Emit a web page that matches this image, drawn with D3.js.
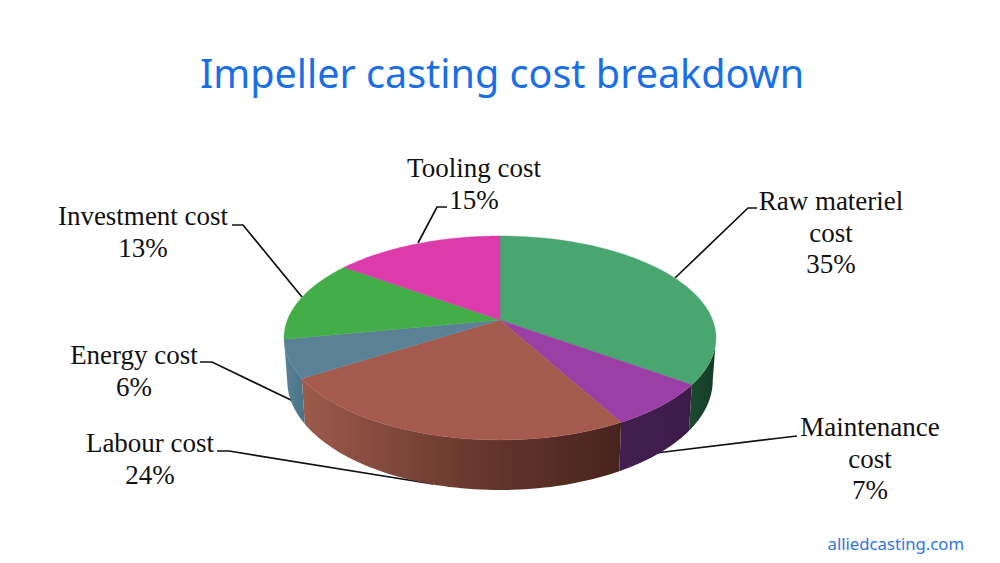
<!DOCTYPE html>
<html><head><meta charset="utf-8">
<script src="https://cdnjs.cloudflare.com/ajax/libs/d3/7.8.5/d3.min.js"></script>
<style>html,body{margin:0;background:#fff}svg{display:block}</style></head>
<body><svg id="c" width="1000" height="563"></svg>
<script>
const categories = ["Raw materiel cost","Maintenance cost","Labour cost","Energy cost","Investment cost","Tooling cost"];
const values = [35,7,24,6,13,15];
const topColors = ["#49a66f","#9a3fa6","#a45a4c","#5b8197","#43ae47","#dc3bab"];
const wallColors = [["#1a4a2e","#133b26"],["#421f50","#3c1b49"],["#9c5b4b","#6b3a2f","#47231d"],["#5b8197","#4a7688"],["#43ae47","#43ae47"],["#dc3bab","#dc3bab"]];
const labelLines = [["Raw materiel","cost","35%"],["Maintenance","cost","7%"],["Labour cost","24%"],["Energy cost","6%"],["Investment cost","13%"],["Tooling cost","15%"]];
const labelAnchors = [[831,210],[870,436],[150,452],[134,364],[143,225],[474,177]];
const leaders = [
 [[757,208],[748,208],[675,278]],
 [[797,436],[780,438],[656,453]],
 [[217,451],[229,451],[433,484]],
 [[200,362],[212,362],[293,401]],
 [[232,225],[243,225],[302,297]],
 [[447,207],[437,207],[418,243]]];

const svg = d3.select("#c");
const cx=500, cy=320, R=212.6, k=98.8, a=0.176, depth=41.3, shrink=0.015;
function project(theta, d=0){
  const u=Math.sin(theta), v=-Math.cos(theta), s=1/(1-a*v);
  return [cx+R*u*s*(1-shrink*d), cy+k*v*s+d*depth*s];
}
const arcs = d3.pie().sort(null)(values);
const line = d3.line();
const defs = svg.append("defs");
const visStart=Math.PI-Math.acos(a), visEnd=Math.PI+Math.acos(a);
function samples(s,e){ return d3.range(0,61).map(i=>s+(e-s)*i/60); }

// leaders drawn first, so the pie covers their ends
svg.append("g").selectAll("path").data(leaders).join("path")
  .attr("d",d=>line(d)).attr("fill","none").attr("stroke","#111").attr("stroke-width",1.7);
// side walls: only the part of the rim that faces the viewer
arcs.forEach((p,i)=>{
  const s=Math.max(p.startAngle,visStart), e=Math.min(p.endAngle,visEnd);
  if(e<=s) return;
  const th=samples(s,e);
  const top=th.map(t=>project(t,0)), bot=th.map(t=>project(t,1)).reverse();
  const xs=top.map(q=>q[0]);
  const g=defs.append("linearGradient").attr("id","w"+i).attr("gradientUnits","userSpaceOnUse")
    .attr("x1",d3.min(xs)).attr("x2",d3.max(xs)).attr("y1",0).attr("y2",0);
  wallColors[i].forEach((c,j,arr)=>g.append("stop").attr("offset",j/(arr.length-1)).attr("stop-color",c));
  svg.append("path").attr("d",line(top.concat(bot))+"Z").attr("fill",`url(#w${i})`);
});
// top faces
arcs.forEach((p,i)=>{
  const pts=samples(p.startAngle,p.endAngle).map(t=>project(t,0));
  svg.append("path").attr("d",line([[cx,cy],...pts])+"Z").attr("fill",topColors[i]).attr("stroke",topColors[i]).attr("stroke-width",.4);
});
// labels
const lab=svg.append("g").attr("font-family","'Liberation Serif',serif").attr("font-size",27).attr("fill","#111").attr("text-anchor","middle");
labelLines.forEach((ls,i)=>{
  ls.forEach((t,j)=>lab.append("text").attr("x",labelAnchors[i][0]).attr("y",labelAnchors[i][1]+j*31.5).text(t));
});
svg.append("text").attr("x",502).attr("y",88).attr("text-anchor","middle")
  .attr("font-family","'Noto Sans',sans-serif").attr("font-size",39.5).attr("fill","#1a6fe8").text("Impeller casting cost breakdown");
svg.append("text").attr("x",964).attr("y",550).attr("text-anchor","end")
  .attr("font-family","'Noto Sans',sans-serif").attr("font-size",16.7).attr("fill","#2f74e6").text("alliedcasting.com");
</script></body></html>
